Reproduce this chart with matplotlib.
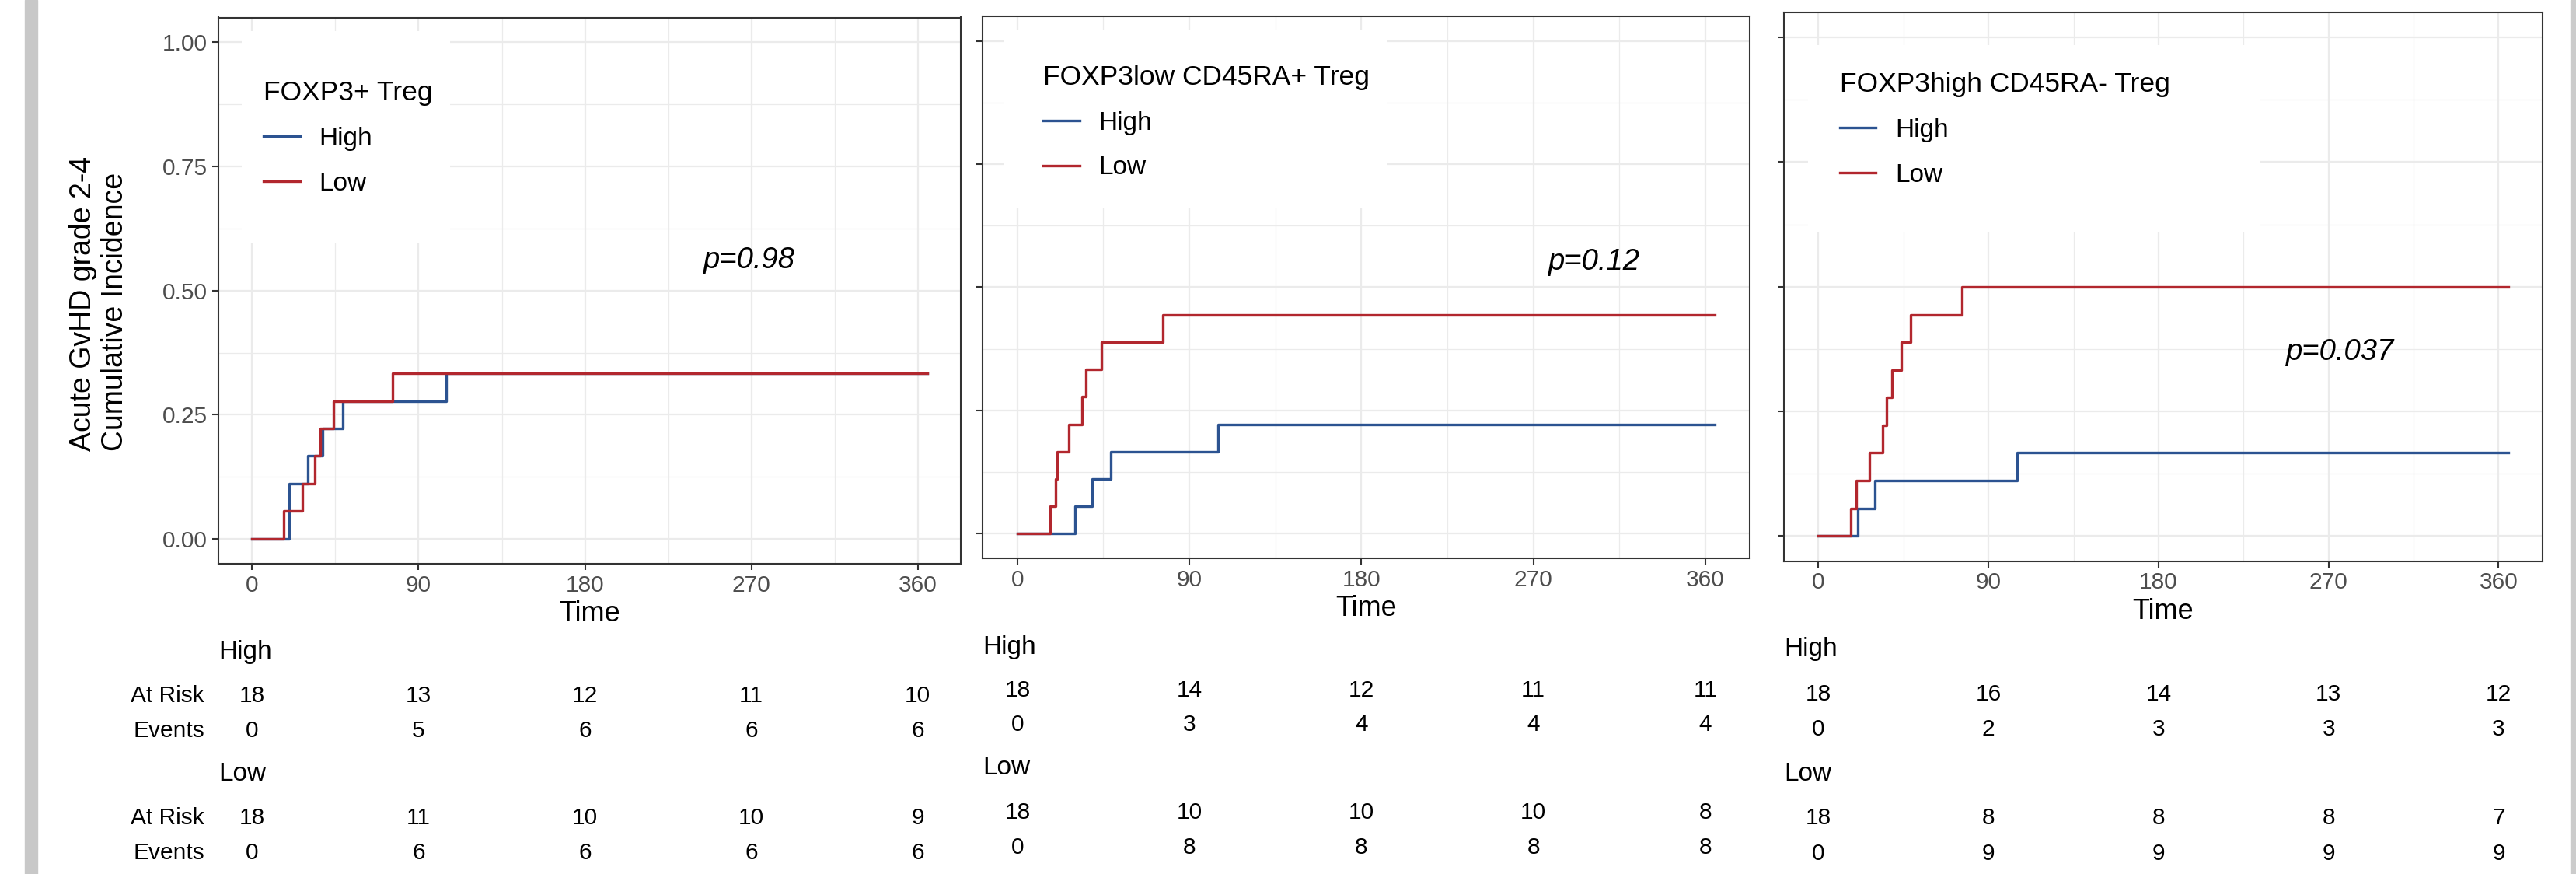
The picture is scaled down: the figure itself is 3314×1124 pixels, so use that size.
import matplotlib
matplotlib.use("Agg")
import matplotlib.pyplot as plt
import matplotlib.transforms as mtransforms
from matplotlib.patches import Rectangle
import numpy as np

plt.rcParams['font.family'] = ['Liberation Sans', 'DejaVu Sans']

W, H = 3314, 1124

# ---- data ----
titles = ["FOXP3+ Treg", "FOXP3low CD45RA+ Treg", "FOXP3high CD45RA- Treg"]
pvals = ["p=0.98", "p=0.12", "p=0.037"]
t_end = 365

high_days = [[20, 30, 38, 49, 105],
             [30, 39, 49, 105],
             [21, 30, 105]]
high_ci = [[0.111, 0.167, 0.222, 0.278, 0.333],
           [0.056, 0.111, 0.167, 0.222],
           [0.056, 0.111, 0.167]]
low_days = [[17, 27, 34, 37, 44, 76],
            [17, 20, 21, 27, 34, 36, 44, 76],
            [17, 20, 27, 34, 36, 39, 44, 49, 76]]
low_ci = [[0.056, 0.111, 0.167, 0.222, 0.278, 0.333],
          [0.056, 0.111, 0.167, 0.222, 0.278, 0.333, 0.389, 0.444],
          [0.056, 0.111, 0.167, 0.222, 0.278, 0.333, 0.389, 0.444, 0.5]]

table_times = [0, 90, 180, 270, 360]
high_risk = [[18, 13, 12, 11, 10], [18, 14, 12, 11, 11], [18, 16, 14, 13, 12]]
high_events = [[0, 5, 6, 6, 6], [0, 3, 4, 4, 4], [0, 2, 3, 3, 3]]
low_risk = [[18, 11, 10, 10, 9], [18, 10, 10, 10, 8], [18, 8, 8, 8, 7]]
low_events = [[0, 6, 6, 6, 6], [0, 8, 8, 8, 8], [0, 9, 9, 9, 9]]

# ---- layout (pixels) ----
panel_px = [(281, 1236, 22.5, 725), (1264, 2251, 21, 718), (2295, 3271, 16, 721.5)]
box_ax = [(0.031, 0.312, 0.588, 0.975), (0.028, 0.528, 0.646, 0.976), (0.032, 0.628, 0.599, 0.941)]
leg_anchor = [(0.0607, 0.885), (0.079, 0.911), (0.0733, 0.892)]
pval_pos = [(269, 0.56), (302, 0.551), (276, 0.368)]
table_y = [(838, 895, 940, 995, 1052, 1097),
           (832, 888, 932, 988, 1045, 1090),
           (835, 893, 938, 995, 1052, 1098)]

BLUE = "#2C5391"
RED = "#B2272E"
GRID = "#EBEBEB"
DARK = "#333333"

fig = plt.figure(figsize=(W / 100, H / 100), dpi=100)
fig.patches.append(Rectangle((31.7 / W, 0), 16 / W, 1, transform=fig.transFigure,
                             color="#C8C8C8", zorder=0))
fig.patches.append(Rectangle((3307 / W, 0), 7 / W, 1, transform=fig.transFigure,
                             color="#CCCCCC", zorder=0))

for i in range(3):
    l, r, t, b = panel_px[i]
    ax = fig.add_axes([l / W, 1 - b / H, (r - l) / W, (b - t) / H])
    ax.set_xlim(-18.25, 383.25)
    ax.set_ylim(-0.05, 1.05)
    ax.set_xticks(table_times)
    ax.set_xticks([45, 135, 225, 315], minor=True)
    ax.set_yticks([0, 0.25, 0.5, 0.75, 1.0])
    ax.set_yticks([0.125, 0.375, 0.625, 0.875], minor=True)
    ax.grid(True, which="major", color=GRID, lw=1.6, zorder=0)
    ax.grid(True, which="minor", color=GRID, lw=0.9, zorder=0)
    ax.set_axisbelow(True)
    for s in ax.spines.values():
        s.set_color(DARK)
        s.set_linewidth(1.5)
    ax.tick_params(which="major", length=6, width=1.5, color=DARK,
                   labelsize=21.5, labelcolor="#4D4D4D", pad=4)
    ax.tick_params(which="minor", length=0)
    if i == 0:
        ax.set_yticklabels(["0.00", "0.25", "0.50", "0.75", "1.00"])
    else:
        ax.set_yticklabels([])

    # white legend background covering the grid
    x0, x1, y0, y1 = box_ax[i]
    ax.add_patch(Rectangle((x0, y0), x1 - x0, y1 - y0, transform=ax.transAxes,
                           facecolor="white", edgecolor="none", zorder=1.5))

    ax.step([0] + high_days[i] + [t_end], [0] + high_ci[i] + [high_ci[i][-1]],
            where="post", color=BLUE, lw=2.4, label="High", zorder=2)
    ax.step([0] + low_days[i] + [t_end], [0] + low_ci[i] + [low_ci[i][-1]],
            where="post", color=RED, lw=2.4, label="Low", zorder=2.1)

    leg = ax.legend(title=titles[i], loc="upper left", bbox_to_anchor=leg_anchor[i],
                    frameon=False, fontsize=24, title_fontsize=25.5, alignment="left",
                    handlelength=1.4, handletextpad=0.75, labelspacing=0.8,
                    borderpad=0, borderaxespad=0)
    leg.set_zorder(3)

    px, py = pval_pos[i]
    ax.text(px, py, pvals[i], fontsize=27.5, style="italic", ha="center", va="center")

    ax.set_xlabel("Time", fontsize=26, labelpad=4)

    # risk table below each panel
    tr = mtransforms.blended_transform_factory(ax.transData, fig.transFigure)
    tr_left = mtransforms.blended_transform_factory(ax.transAxes, fig.transFigure)
    yh, yr1, ye1, yl, yr2, ye2 = [1 - v / H for v in table_y[i]]
    ax.text(0, yh, "High", transform=tr_left, fontsize=24, ha="left", va="center")
    ax.text(0, yl, "Low", transform=tr_left, fontsize=24, ha="left", va="center")
    for k, tt in enumerate(table_times):
        ax.text(tt, yr1, str(high_risk[i][k]), transform=tr, fontsize=21.5, ha="center", va="center")
        ax.text(tt, ye1, str(high_events[i][k]), transform=tr, fontsize=21.5, ha="center", va="center")
        ax.text(tt, yr2, str(low_risk[i][k]), transform=tr, fontsize=21.5, ha="center", va="center")
        ax.text(tt, ye2, str(low_events[i][k]), transform=tr, fontsize=21.5, ha="center", va="center")
    if i == 0:
        xr = (263 - 281) / (r - l)
        for yy, lab in [(yr1, "At Risk"), (ye1, "Events"), (yr2, "At Risk"), (ye2, "Events")]:
            ax.text(xr, yy, lab, transform=tr_left, fontsize=21.5, ha="right", va="center")

fig.text(127.5 / W, 1 - 390 / H, "Acute GvHD grade 2-4\nCumulative Incidence",
         rotation=90, ha="center", va="center", multialignment="left", fontsize=27)

fig.savefig("out.png", dpi=100, facecolor="white")
